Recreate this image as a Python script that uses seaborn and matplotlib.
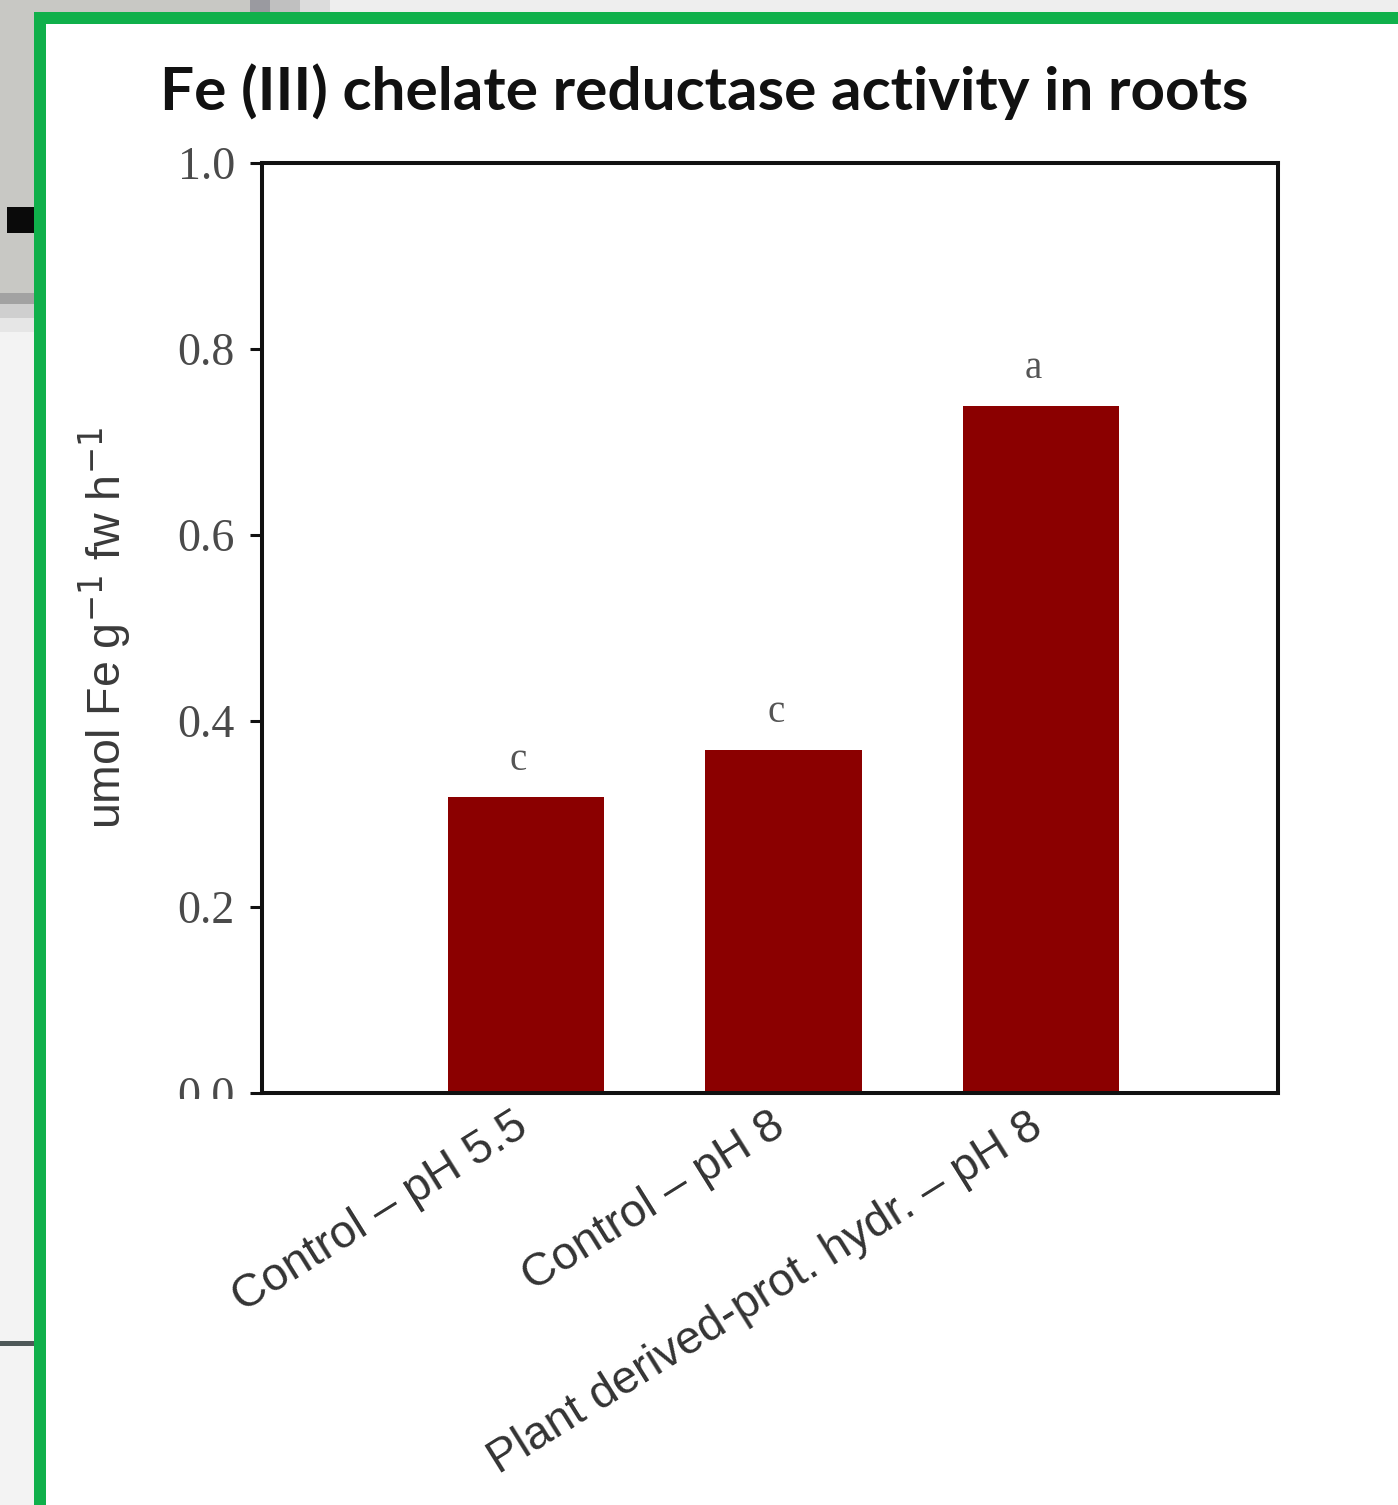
import matplotlib
matplotlib.use("Agg")
import matplotlib.pyplot as plt
from matplotlib.patches import Rectangle
from matplotlib.transforms import Bbox, ScaledTranslation
import seaborn as sns
import pandas as pd

# Root Fe(III) chelate reductase activity per treatment
categories = ["Control – pH 5.5", "Control – pH 8", "Plant derived-prot. hydr. – pH 8"]
activity = [0.318, 0.369, 0.739]
letters = ["c", "c", "a"]
yticks = [0.0, 0.2, 0.4, 0.6, 0.8, 1.0]
ytick_labels = ["0.0", "0.2", "0.4", "0.6", "0.8", "1.0"]

W, H = 1398, 1505
DPI = 100

sns.set_theme(style="white")
plt.rcParams["font.family"] = ["Liberation Sans", "DejaVu Sans"]

fig = plt.figure(figsize=(W / DPI, H / DPI), dpi=DPI)
fig.patch.set_facecolor("white")


def px_rect(x0, y0, x1, y1, color, z=1):
    """Rectangle given in pixel coordinates measured from the top-left corner."""
    fig.add_artist(Rectangle((x0 / W, 1 - y1 / H), (x1 - x0) / W, (y1 - y0) / H,
                             transform=fig.transFigure, facecolor=color,
                             edgecolor="none", zorder=z))


# surrounding window chrome
px_rect(0, 0, 34, H, "#f3f3f3")
px_rect(0, 0, W, 12, "#eeeeee")
px_rect(0, 0, 250, 12, "#c8c8c4")
px_rect(250, 0, 270, 12, "#9a9aa0")
px_rect(270, 0, 300, 12, "#c0c0c0")
px_rect(300, 0, 330, 12, "#dcdcdc")
px_rect(0, 0, 34, 293, "#c8c8c4")
px_rect(0, 293, 34, 304, "#a2a2a2")
px_rect(0, 304, 34, 318, "#cfcfcf")
px_rect(0, 318, 34, 332, "#e6e6e6")
px_rect(7, 207, 34, 233, "#0a0a0a")
px_rect(0, 1341, 34, 1346, "#4e5858")
# green frame
px_rect(34, 12, 46, H, "#10b04b", z=2)
px_rect(34, 12, W, 24, "#10b04b", z=2)

ax = fig.add_axes([262 / W, 1 - 1093 / H, (1278 - 262) / W, (1093 - 163) / H])

df = pd.DataFrame({"treatment": categories, "activity": activity})
sns.barplot(data=df, x="treatment", y="activity", color="#8b0000",
            saturation=1, width=0.606, edgecolor="none", ax=ax)

ax.set_xlim(-1.025, 2.92)
ax.set_ylim(0, 1.0)
ax.set_facecolor("white")

for side in ["left", "right", "top", "bottom"]:
    ax.spines[side].set_visible(True)
    ax.spines[side].set_color("#111111")
    ax.spines[side].set_linewidth(2.9)

# significance letters
for i, (v, lab) in enumerate(zip(activity, letters)):
    ax.text(i - 0.03, v + 0.02, lab, ha="center", va="bottom", fontsize=28,
            family=["Liberation Serif"], color="#555555")

ax.set_yticks(yticks)
ax.set_yticklabels(ytick_labels, family=["Liberation Serif"], fontsize=33,
                   color="#4a4a4a")
ax.tick_params(axis="y", which="major", left=True, direction="out",
               length=8.6, width=2.2, color="#111111", pad=11)
ax.tick_params(axis="x", which="major", bottom=False, length=0, pad=8)

ax.set_xticks(range(len(categories)))
ax.set_xticklabels(categories, rotation=32, ha="right", rotation_mode="anchor",
                   fontsize=33.5, color="#333333")
shift = ScaledTranslation(-14 / DPI, 0, fig.dpi_scale_trans)
for lab in ax.get_xticklabels():
    lab.set_transform(lab.get_transform() + shift)
ax.set_xlabel("")
ax.set_ylabel(r"umol Fe g$^{-1}$ fw h$^{-1}$", fontsize=33.5, color="#3a3a3a")
ax.yaxis.set_label_coords(-0.126, 0.5)

fig.text(160 / W, 1 - 110 / H, "Fe (III) chelate reductase activity in roots",
         ha="left", va="baseline", fontsize=43.4, fontweight="bold",
         family=["Lato", "DejaVu Sans"], color="#111111")

# the lowest tick label sits partly beneath the frame of the plot
fig.canvas.draw()
zero_label = ax.get_yticklabels()[0]
zero_label.set_clip_on(True)
zero_label.set_clip_box(Bbox([[0, H - 1099], [W, H]]))

fig.savefig("out.png", dpi=DPI)
